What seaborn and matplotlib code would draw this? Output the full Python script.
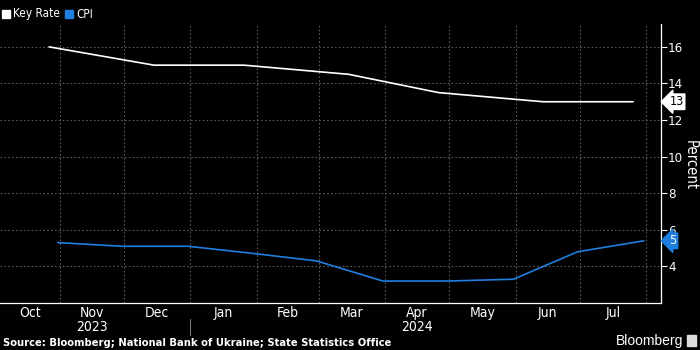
import matplotlib
matplotlib.use("Agg")
import matplotlib.pyplot as plt
import matplotlib.dates as mdates
import matplotlib.transforms as mtransforms
import seaborn as sns
import pandas as pd

# ---- data ----
key_dates = ["2023-10-27", "2023-12-15", "2024-01-26", "2024-03-15",
             "2024-04-26", "2024-06-14", "2024-07-26"]
key_values = [16.0, 15.0, 15.0, 14.5, 13.5, 13.0, 13.0]

cpi_dates = ["2023-10-31", "2023-11-30", "2023-12-31", "2024-01-31", "2024-02-29",
             "2024-03-31", "2024-04-30", "2024-05-31", "2024-06-30", "2024-07-31"]
cpi_values = [5.3, 5.1, 5.1, 4.7, 4.3, 3.2, 3.2, 3.3, 4.8, 5.4]

month_labels = ["Oct", "Nov", "Dec", "Jan", "Feb", "Mar", "Apr", "May", "Jun", "Jul"]
year_labels = ["2023", "2024"]
y_ticks = [4, 6, 8, 10, 12, 14, 16]

WHITE = "#ffffff"
BLUE = "#1f7fe0"
GRID = "#5a5a5a"

key_df = pd.DataFrame({"date": pd.to_datetime(key_dates), "value": key_values})
cpi_df = pd.DataFrame({"date": pd.to_datetime(cpi_dates), "value": cpi_values})

sns.set_style("dark")
plt.rcParams["font.family"] = ["DejaVu Sans"]
plt.rcParams["font.stretch"] = "condensed"

fig = plt.figure(figsize=(7, 3.5), dpi=100, facecolor="black")
ax = fig.add_axes([0.0, 1 - 303 / 350, 661 / 700, (303 - 24) / 350])
ax.set_facecolor("black")

sns.lineplot(data=key_df, x="date", y="value", ax=ax, color=WHITE, linewidth=1.2)
sns.lineplot(data=cpi_df, x="date", y="value", ax=ax, color=BLUE, linewidth=1.2)

xmin = pd.Timestamp("2023-10-04")
xmax = pd.Timestamp("2024-08-08")
ax.set_xlim(xmin, xmax)
ax.set_ylim(2.0, 17.25)

# grid
month_starts = pd.date_range("2023-11-01", "2024-08-01", freq="MS")
ax.set_xticks(month_starts)
ax.set_xticklabels([])
ax.set_yticks(y_ticks)
ax.grid(True, which="major", color=GRID, linestyle=(0, (1.5, 2)), linewidth=0.8)

ax.tick_params(axis="x", colors=WHITE, length=3, width=0.8, direction="out")
ax.yaxis.tick_right()
ax.tick_params(axis="y", colors=WHITE, length=4, width=0.8, labelsize=9.5,
               labelcolor=WHITE, pad=1)
for s in ["top", "left"]:
    ax.spines[s].set_visible(False)
for s in ["right", "bottom"]:
    ax.spines[s].set_visible(True)
    ax.spines[s].set_color(WHITE)
    ax.spines[s].set_linewidth(0.9)

ax.set_xlabel("")
ax.set_ylabel("")
fig.text(690 / 700, 1 - 165 / 350, "Percent", color=WHITE, fontsize=10.5,
         rotation=270, ha="center", va="center")

# month labels centered in visible portion of each month
trans = mtransforms.blended_transform_factory(ax.transData, fig.transFigure)
bounds = [xmin] + list(month_starts)
for i, lab in enumerate(month_labels):
    a = mdates.date2num(bounds[i])
    b = mdates.date2num(min(bounds[i + 1], xmax))
    ax.text((a + b) / 2, 1 - 313 / 350, lab, transform=trans, color=WHITE,
            ha="center", va="center", fontsize=10, clip_on=False)

ax.text(mdates.date2num(pd.Timestamp("2023-11-16")), 1 - 327 / 350, year_labels[0],
        transform=trans, color=WHITE, ha="center", va="center", fontsize=10)
ax.text(mdates.date2num(pd.Timestamp("2024-04-16")), 1 - 327 / 350, year_labels[1],
        transform=trans, color=WHITE, ha="center", va="center", fontsize=10)
sep_x = mdates.date2num(pd.Timestamp("2024-01-01"))
ax.plot([sep_x, sep_x], [1 - 319 / 350, 1 - 335 / 350], transform=trans,
        color="#777777", linewidth=0.8, clip_on=False)

# right-side value tags
ytrans = mtransforms.blended_transform_factory(ax.transAxes, ax.transData)
ax.annotate(f"{key_values[-1]:.0f}", xy=(1.0, key_values[-1]), xycoords=ytrans,
            xytext=(6, 0), textcoords="offset points", ha="left", va="center",
            fontsize=9, color="black", zorder=5, annotation_clip=False,
            bbox=dict(boxstyle="larrow,pad=0.1", fc=WHITE, ec=WHITE))
ax.annotate(f"{cpi_values[-1]:.0f}", xy=(1.0, cpi_values[-1]), xycoords=ytrans,
            xytext=(6, 0), textcoords="offset points", ha="left", va="center",
            fontsize=9, color=WHITE, zorder=5, annotation_clip=False,
            bbox=dict(boxstyle="larrow,pad=0.1", fc=BLUE, ec=BLUE))

# legend
fig.patches.append(plt.Rectangle((2 / 700, 1 - 18 / 350), 8 / 700, 8 / 350,
                                 transform=fig.transFigure, color=WHITE))
fig.text(13 / 700, 1 - 14 / 350, "Key Rate", color=WHITE, fontsize=8.5, va="center")
fig.patches.append(plt.Rectangle((65 / 700, 1 - 18 / 350), 8 / 700, 8 / 350,
                                 transform=fig.transFigure, color=BLUE))
fig.text(76 / 700, 1 - 14 / 350, "CPI", color=WHITE, fontsize=8.5, va="center")

# footer
fig.text(3 / 700, 1 - 343 / 350, "Source: Bloomberg; National Bank of Ukraine; State Statistics Office",
         color=WHITE, fontsize=8, fontweight="bold", va="center", ha="left")
fig.text(683 / 700, 1 - 341 / 350, "Bloomberg", color=WHITE, fontsize=10,
         va="center", ha="right", family=["Liberation Sans", "DejaVu Sans"],
         fontstretch="normal")
fig.patches.append(plt.Rectangle((687 / 700, 1 - 346 / 350), 9 / 700, 11 / 350,
                                 transform=fig.transFigure, color="#dddddd"))

fig.savefig("out.png", dpi=100, facecolor="black")
